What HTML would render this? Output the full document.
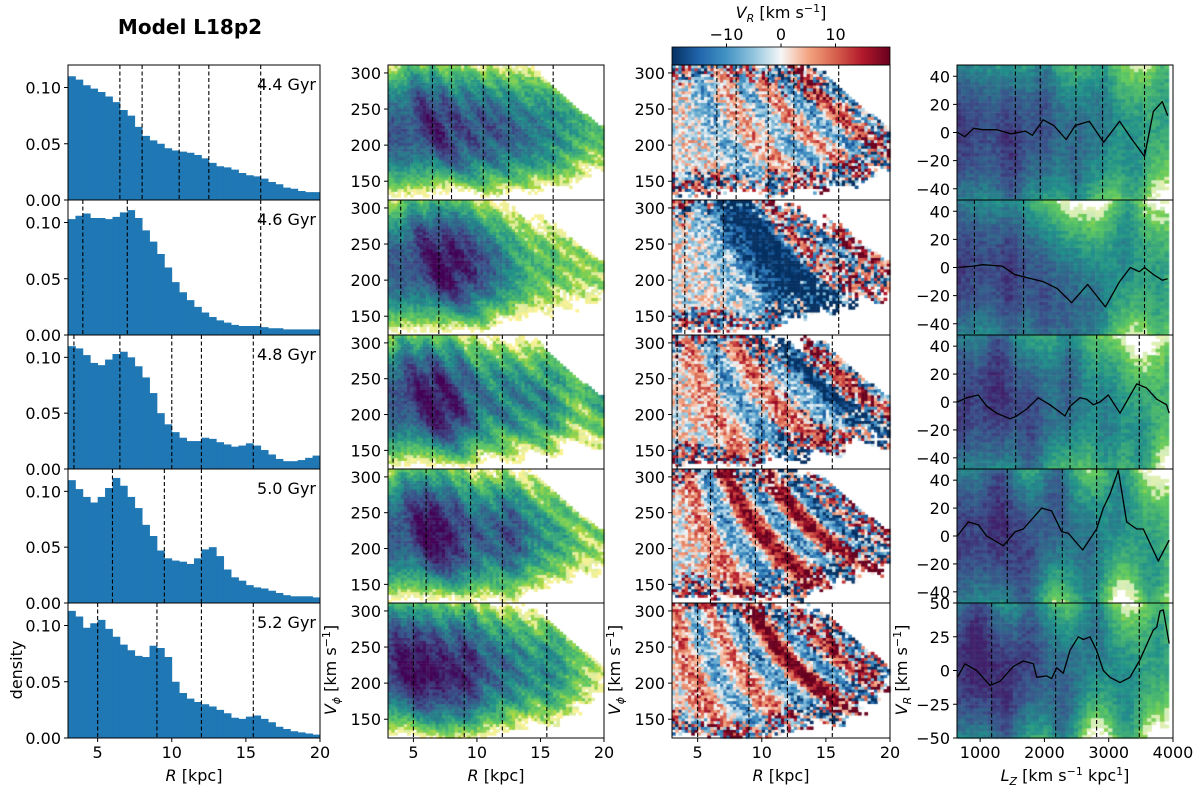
<!DOCTYPE html>
<html><head><meta charset="utf-8">
<style>
html,body{margin:0;padding:0;background:#fff;}
#wrap{position:relative;width:1200px;height:790px;overflow:hidden;font-family:"DejaVu Sans","Liberation Sans",sans-serif;}
canvas,svg{position:absolute;left:0;top:0;}
</style></head>
<body>
<div id="wrap">
<canvas id="cv" width="1200" height="790"></canvas>
<svg id="sv" width="1200" height="790" xmlns="http://www.w3.org/2000/svg"></svg>
</div>
<script>
// ---------- data ----------
const ages = ["4.4 Gyr","4.6 Gyr","4.8 Gyr","5.0 Gyr","5.2 Gyr"];
const rBinStart = 3, rBinWidth = 0.5;
const hist1 = [0.110,0.107,0.102,0.099,0.096,0.092,0.087,0.080,0.075,0.065,0.057,0.053,0.050,0.046,0.044,0.043,0.042,0.040,0.037,0.033,0.030,0.029,0.027,0.024,0.022,0.021,0.019,0.016,0.014,0.011,0.010,0.008,0.007,0.007];
const hist2 = [0.103,0.106,0.108,0.104,0.104,0.103,0.105,0.109,0.111,0.104,0.093,0.083,0.072,0.060,0.047,0.038,0.031,0.025,0.020,0.016,0.013,0.011,0.009,0.008,0.008,0.008,0.007,0.006,0.006,0.005,0.005,0.005,0.005,0.005];
const hist3 = [0.110,0.108,0.102,0.095,0.093,0.098,0.103,0.105,0.100,0.092,0.082,0.068,0.050,0.040,0.033,0.028,0.025,0.025,0.028,0.027,0.024,0.022,0.020,0.021,0.023,0.021,0.017,0.013,0.009,0.007,0.007,0.008,0.010,0.012];
const hist4 = [0.110,0.102,0.095,0.090,0.095,0.103,0.112,0.105,0.095,0.085,0.070,0.060,0.047,0.040,0.038,0.037,0.035,0.040,0.048,0.050,0.042,0.030,0.023,0.020,0.016,0.014,0.013,0.011,0.009,0.007,0.006,0.006,0.006,0.005];
const hist5 = [0.113,0.108,0.098,0.102,0.105,0.097,0.090,0.083,0.078,0.073,0.072,0.082,0.080,0.072,0.050,0.040,0.035,0.032,0.030,0.028,0.025,0.022,0.018,0.017,0.019,0.020,0.017,0.014,0.010,0.008,0.006,0.005,0.004,0.003];
const hists = [hist1,hist2,hist3,hist4,hist5];
const rDashes = [[6.5,8,10.5,12.5,16],[4,7,16],[3.4,6.5,10,12,15.5],[6,9.5,12],[5,9,12,15.5]];
const lzDashes = [[1548,1935,2489,2904,3557],[911,1675,3557],[754,1553,2398,2812,3475],[1422,2278,2812],[1179,2175,2812,3475]];
const lineLz1 = [651,762,900,1038,1260,1481,1703,1813,1979,2146,2339,2478,2699,2920,3170,3363,3557,3695,3834,3917];
const lineVr1 = [0,-3,3,2,2,-1,1,-2,9,5,-5,5,8,-7,8,-5,-17,15,22,12];
const lineLz2 = [651,900,1038,1343,1537,1703,1979,2201,2422,2671,2948,3170,3336,3474,3557,3695,3834,3917];
const lineVr2 = [0,1,2,1,-5,-7,-10,-15,-25,-12,-28,-10,0,-3,0,-5,-9,-8];
const lineLz3 = [645,790,972,1102,1257,1464,1568,1724,1905,2086,2320,2398,2553,2657,2760,2864,2993,3175,3435,3590,3746,3901,3941];
const lineVr3 = [0,3,5,-3,-8,-12,-10,-5,3,-2,-10,-3,3,2,-2,0,5,-8,13,10,2,-2,-8];
const lineLz4 = [645,816,972,1102,1361,1542,1672,1957,2112,2268,2372,2595,2812,2916,3020,3149,3279,3435,3538,3771,3941];
const lineVr4 = [0,10,8,0,-7,3,5,20,18,3,2,-10,5,20,30,47,10,5,5,-18,-3];
const lineLz5 = [645,764,945,1153,1309,1516,1672,1828,1879,2035,2112,2190,2294,2398,2527,2605,2709,2812,2916,3020,3175,3331,3487,3694,3746,3798,3849,3941];
const lineVr5 = [-5,5,0,-11,-8,3,7,5,-5,-4,-6,2,-2,15,25,23,25,15,0,-5,-9,-5,8,30,32,44,45,20];
const linesLz = [lineLz1,lineLz2,lineLz3,lineLz4,lineLz5];
const linesVr = [lineVr1,lineVr2,lineVr3,lineVr4,lineVr5];
const bandLz = [[1500,2000,2500,2900,3400,3900,4300],[1500,2000,2400,2800,3300,3800,4300],[1300,1800,2400,3000,3500,4100,4500],[1300,1700,2200,2700,3200,3700,4300],[1000,1400,1800,2300,2800,3300,3800,4300]];
const bandVr = [[-8,6,-8,8,-10,14,-10],[-5,-15,-22,-22,10,-10,16],[8,-10,10,-8,-22,15,-10],[10,-12,20,-12,22,-15,5],[10,-10,10,-12,22,-12,15,-8]];
const hTicks = [0,0.05,0.10], hTickLbl=["0.00","0.05","0.10"];
const vTicks = [150,200,250,300];
const rTicks = [5,10,15,20];
const lzTicks = [1000,2000,3000,4000];
const vrTicks = [40,20,0,-20,-40];
const vrTicks5 = [50,25,0,-25,-50];
const cbTicks = [-10,0,10];

// ---------- geometry ----------
const rowTop = [65,200,335,469,603], rowBot=[200,335,469,603,738];
const C1=[68,320], C2=[388,604], C3=[672,890], C4=[957,1173];
const R0=3,R1=20, V0=124,V1=311, L0=640,L1=4000, H1=0.12;
function xR(c,r){return c[0]+(r-R0)/(R1-R0)*(c[1]-c[0]);}
function yV(i,v){return rowBot[i]-(v-V0)/(V1-V0)*(rowBot[i]-rowTop[i]);}
function xL(l){return C4[0]+(l-L0)/(L1-L0)*(C4[1]-C4[0]);}
function vrR(i){return i==4?[-50,50]:[-48,48];}
function yVR(i,v){const r=vrR(i);return rowBot[i]-(v-r[0])/(r[1]-r[0])*(rowBot[i]-rowTop[i]);}
function yH(i,h){return rowBot[i]-h/H1*(rowBot[i]-rowTop[i]);}

// ---------- colour maps ----------
function lerpStops(st,t){t=Math.max(0,Math.min(1,t));const n=st.length-1;const k=Math.min(n-1,Math.floor(t*n));const f=t*n-k;
 const a=st[k],b=st[k+1];return [a[0]+(b[0]-a[0])*f,a[1]+(b[1]-a[1])*f,a[2]+(b[2]-a[2])*f];}
const VIR=[[253,231,37],[94,201,98],[33,145,140],[59,82,139],[68,1,84]];
const RDBU=[[5,48,97],[33,102,172],[67,147,195],[146,197,222],[247,247,247],[244,165,130],[214,96,77],[178,24,43],[103,0,31]];
function hash(a,b,c){let h=(a*374761393+b*668265263+c*2147483647)|0;h=(h^(h>>>13))*1274126177|0;h=h^(h>>>16);return ((h>>>0)%10000)/10000;}
function histAt(i,r){let k=Math.floor((r-rBinStart)/rBinWidth);k=Math.max(0,Math.min(hists[i].length-1,k));return hists[i][k];}
function ridge(i,lz,w){let s=0;for(let k=0;k<bandLz[i].length;k++){const d=(lz-bandLz[i][k])/w;s+=Math.exp(-d*d/2);}return s;}
function vrMean(i,lz){let s=0;for(let k=0;k<bandLz[i].length;k++){const d=(lz-bandLz[i][k])/170;s+=bandVr[i][k]*Math.exp(-d*d/2);}return s;}

const cv=document.getElementById('cv'),ctx=cv.getContext('2d');
function density2(i,r,v,a,b){
 const lz=r*v; const g=(v-218)/(v<218?36:40);
 let d=histAt(i,r)/0.11*Math.exp(-g*g/2)*(0.35+0.8*ridge(i,lz,130));
 if(lz>4500) d*=0.03;
 d*=Math.exp(0.7*(hash(a,b,i)-0.5));
 return d;
}
for(let i=0;i<5;i++){
 const nR=68,nV=47;
 for(let a=0;a<nR;a++){for(let b=0;b<nV;b++){
  const r=R0+(a+0.5)*(R1-R0)/nR, v=V0+(b+0.5)*(V1-V0)/nV;
  const d=density2(i,r,v,a,b);
  const t=(Math.log10(d)+1.75)/1.75;
  const x0=xR(C2,R0+a*(R1-R0)/nR), x1=xR(C2,R0+(a+1)*(R1-R0)/nR);
  const y0=yV(i,V0+(b+1)*(V1-V0)/nV), y1=yV(i,V0+b*(V1-V0)/nV);
  if(t>0){let c=lerpStops(VIR,t);if(t<0.12){c=[c[0]+(255-c[0])*0.5,c[1]+(255-c[1])*0.5,c[2]+(255-c[2])*0.5];}
   ctx.fillStyle=`rgb(${c[0]|0},${c[1]|0},${c[2]|0})`;ctx.fillRect(x0,y0,x1-x0+0.5,y1-y0+0.5);}
  if(t>0.02){
   const vr=vrMean(i,r*v)+ (hash(a+7,b+3,i+11)-0.5)*(t<0.4?45:16);
   const c=lerpStops(RDBU,(vr+20)/40);
   ctx.fillStyle=`rgb(${c[0]|0},${c[1]|0},${c[2]|0})`;
   const X0=xR(C3,R0+a*(R1-R0)/nR), X1=xR(C3,R0+(a+1)*(R1-R0)/nR);
   ctx.fillRect(X0,y0,X1-X0+0.5,y1-y0+0.5);
  }
 }}
 // col4
 const nL=50,nQ=40,rr=vrR(i);
 for(let a=0;a<nL;a++){for(let b=0;b<nQ;b++){
  const lz=L0+(a+0.5)*(L1-L0)/nL; if(lz>3960) continue;
  const q=rr[0]+(b+0.5)*(rr[1]-rr[0])/nQ;
  const vm=vrMean(i,lz)*1.2; const g=(q-vm)/34;
  let d=Math.exp(-(lz-700)/1500)*Math.exp(-g*g/2)*(0.6+0.5*ridge(i,lz,150));
  d*=Math.exp(0.5*(hash(a+31,b+17,i+5)-0.5));
  const t=(Math.log10(d)+1.45)/1.45;
  if(t<=0) continue;
  const c=lerpStops(VIR,Math.min(0.9,0.1+t*0.85));
  let col=c; if(t<0.1){col=[c[0]+(255-c[0])*0.6,c[1]+(255-c[1])*0.6,c[2]+(255-c[2])*0.6];}
  ctx.fillStyle=`rgb(${col[0]|0},${col[1]|0},${col[2]|0})`;
  const x0=xL(L0+a*(L1-L0)/nL),x1=xL(L0+(a+1)*(L1-L0)/nL);
  const y0=yVR(i,rr[0]+(b+1)*(rr[1]-rr[0])/nQ),y1=yVR(i,rr[0]+b*(rr[1]-rr[0])/nQ);
  ctx.fillRect(x0,y0,x1-x0+0.5,y1-y0+0.5);
 }}
}

// ---------- SVG ----------
const NS="http://www.w3.org/2000/svg", sv=document.getElementById('sv');
const FS=16;
function el(tag,attrs,parent){const e=document.createElementNS(NS,tag);for(const k in attrs)e.setAttribute(k,attrs[k]);(parent||sv).appendChild(e);return e;}
function txt(s,x,y,anchor,size,parent,extra){const t=el('text',Object.assign({x:x,y:y,'text-anchor':anchor||'middle','font-size':size||FS,fill:'#000'},extra||{}),parent);t.textContent=s;return t;}

const defs=el('defs',{});
const lg=el('linearGradient',{id:'cbg',x1:'0',x2:'1',y1:'0',y2:'0'},defs);
RDBU.forEach((c,k)=>el('stop',{offset:k/(RDBU.length-1),'stop-color':`rgb(${c[0]},${c[1]},${c[2]})`},lg));

const title=txt("Model L18p2",190,34,'middle',20,null,{'font-weight':'bold'});



const cb=el('g',{});


el('rect',{x:C3[0],y:47,width:C3[1]-C3[0],height:18,fill:'url(#cbg)',stroke:'#000','stroke-width':0.8},cb);
cbTicks.forEach(v=>{const x=C3[0]+(v+20)/40*(C3[1]-C3[0]);el('line',{x1:x,x2:x,y1:47,y2:43.5,stroke:'#000'},cb);txt(v<0?'\u2212'+(-v):String(v),x,40,'middle',FS,cb);});
const cbl=el('text',{x:(C3[0]+C3[1])/2,y:18,'text-anchor':'middle','font-size':FS},cb);
cbl.innerHTML='<tspan font-style="italic">V</tspan><tspan font-size="11" dy="4" font-style="italic">R</tspan><tspan dy="-4"> [km s</tspan><tspan font-size="11" dy="-6">\u22121</tspan><tspan dy="6">]</tspan>';

for(let i=0;i<5;i++){
 const yt=rowTop[i],yb=rowBot[i];
 const g1=el('g',{});
 
 
 hists[i].forEach((h,k)=>{const r=rBinStart+k*rBinWidth;const b=el('rect',{x:xR(C1,r),y:yH(i,h),width:xR(C1,r+rBinWidth)-xR(C1,r)+0.4,height:yb-yH(i,h),fill:'#1f77b4'},g1);
  
  });
 const g2=el('g',{});
 
 
 const g3=el('g',{});
 
 
 const g4=el('g',{});
 
 
 rDashes[i].forEach(r=>{[[C1,g1],[C2,g2],[C3,g3]].forEach(([c,g])=>{const x=xR(c,r);el('line',{x1:x,x2:x,y1:yt,y2:yb,stroke:'#000','stroke-width':1.1,'stroke-dasharray':'4,2.5'},g);});});
 lzDashes[i].forEach(l=>{const x=xL(l);el('line',{x1:x,x2:x,y1:yt,y2:yb,stroke:'#000','stroke-width':1.1,'stroke-dasharray':'4,2.5'},g4);});
 const pts=linesLz[i].map((l,k)=>xL(l).toFixed(1)+','+yVR(i,linesVr[i][k]).toFixed(1)).join(' ');
 const pl=el('polyline',{points:pts,fill:'none',stroke:'#000','stroke-width':1.3,'stroke-linejoin':'round'},g4);
 
 
 const ag=txt(ages[i],C1[1]-4,yt+25,'end',FS,g1);
 
 
 [C1,C2,C3,C4].forEach(c=>el('rect',{x:c[0],y:yt,width:c[1]-c[0],height:yb-yt,fill:'none',stroke:'#000','stroke-width':1}));
 hTicks.forEach((h,k)=>{const y=yH(i,h);el('line',{x1:C1[0],x2:C1[0]-4,y1:y,y2:y,stroke:'#000'});txt(hTickLbl[k],C1[0]-7,y+6,'end');});
 [C2,C3].forEach(c=>vTicks.forEach(v=>{const y=yV(i,v);el('line',{x1:c[0],x2:c[0]-4,y1:y,y2:y,stroke:'#000'});txt(String(v),c[0]-7,y+6,'end');}));
 (i==4?vrTicks5:vrTicks).forEach(v=>{const y=yVR(i,v);el('line',{x1:C4[0],x2:C4[0]-4,y1:y,y2:y,stroke:'#000'});txt(v<0?'\u2212'+(-v):String(v),C4[0]-7,y+6,'end');});
 [C1,C2,C3].forEach(c=>rTicks.forEach(r=>{const x=xR(c,r);el('line',{x1:x,x2:x,y1:yb,y2:yb+(i==4?4:0),stroke:'#000'});if(i==4)txt(String(r),x,758);}));
 if(i==4) lzTicks.forEach(l=>{const x=xL(l);el('line',{x1:x,x2:x,y1:yb,y2:yb+4,stroke:'#000'});txt(String(l),x,758);});
}
function rlab(cx){const t=el('text',{x:cx,y:781,'text-anchor':'middle','font-size':FS});t.innerHTML='<tspan font-style="italic">R</tspan> [kpc]';return t;}
[C1,C2,C3].forEach((c,k)=>{const t=rlab((c[0]+c[1])/2);});
const lzl=el('text',{x:(C4[0]+C4[1])/2,y:781,'text-anchor':'middle','font-size':FS});
lzl.innerHTML='<tspan font-style="italic">L</tspan><tspan font-size="11" dy="4" font-style="italic">Z</tspan><tspan dy="-4">  [km s</tspan><tspan font-size="11" dy="-6">\u22121</tspan><tspan dy="6"> kpc</tspan><tspan font-size="11" dy="-6">1</tspan><tspan dy="6">]</tspan>';


const dl=txt('density',0,0,'middle',FS,null,{transform:'translate(22,670) rotate(-90)'});


function vlab(x,sub){const t=el('text',{transform:`translate(${x},670) rotate(-90)`,'text-anchor':'middle','font-size':FS});
 t.innerHTML=`<tspan font-style="italic">V</tspan><tspan font-size="11" dy="4" font-style="italic">${sub}</tspan><tspan dy="-4"> [km s</tspan><tspan font-size="11" dy="-6">\u22121</tspan><tspan dy="6">]</tspan>`;return t;}
const v2=vlab(336,'\u03d5');
const v3=vlab(620,'\u03d5');
const v4=vlab(907,'R');
</script>
</body></html>
